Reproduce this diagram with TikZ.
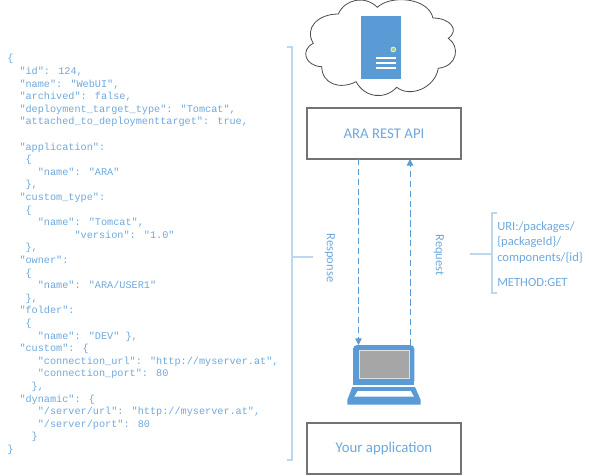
\documentclass[tikz,border=0pt]{standalone}
\usepackage{fontspec}
\setmainfont{Carlito}
\newfontfamily\jsonfont{Liberation Mono}
\usetikzlibrary{arrows.meta}
\definecolor{mainblue}{HTML}{5B9BD5}
\definecolor{textblue}{HTML}{6FA8DC}
\definecolor{paleblue}{HTML}{BDD7EE}
\definecolor{boxgray}{HTML}{737373}
\definecolor{dotgreen}{HTML}{A9D18E}
\newcommand{\ind}[1]{\hspace*{#1\dimexpr 0.6\fontdimen6\font\relax}}
\tikzset{
  diagram/.style={x=0.75pt,y=-0.75pt},
  apibox/.style={draw=boxgray,line width=0.85pt,fill=white,minimum width=115.5pt,minimum height=38.2pt,inner sep=0pt,outer sep=0pt,text=textblue,font=\fontsize{11.1}{13}\selectfont},
  bracketline/.style={draw=paleblue,line width=1.3pt},
  linkline/.style={draw=paleblue,line width=0.9pt},
  flow/.style={draw=mainblue,line width=0.75pt,dash pattern=on 4.8pt off 2.6pt,-{Triangle[length=5pt,width=4.8pt]}},
  vlabel/.style={rotate=-90,text=textblue,font=\fontsize{9.4}{11}\selectfont,inner sep=0pt},
  sidelabel/.style={anchor=base west,text=textblue,font=\fontsize{9.4}{12}\selectfont,inner sep=0pt},
  jsontext/.style={anchor=north west,align=left,inner sep=0pt,text=textblue,font=\fontsize{7.65}{9.45}\jsonfont\selectfont},
  cloudshape/.style={draw=black!70,line width=0.6pt,fill=white},
}
\begin{document}
\begin{tikzpicture}[diagram]
\useasboundingbox (0,0) rectangle (589,475);
% JSON
\node[jsontext] (json) at (7,54.3) {%
\{\\
\ind{2}"id": 124,\\
\ind{2}"name": "WebUI",\\
\ind{2}"archived": false,\\
\ind{2}"deployment\_target\_type": "Tomcat",\\
\ind{2}"attached\_to\_deploymenttarget": true,\\
\mbox{}\\
\ind{2}"application":\\
\ind{3}\{\\
\ind{5}"name": "ARA"\\
\ind{3}\},\\
\ind{2}"custom\_type":\\
\ind{3}\{\\
\ind{5}"name": "Tomcat",\\
\ind{11}"version": "1.0"\\
\ind{3}\},\\
\ind{2}"owner":\\
\ind{3}\{\\
\ind{5}"name": "ARA/USER1"\\
\ind{3}\},\\
\ind{2}"folder":\\
\ind{3}\{\\
\ind{5}"name": "DEV" \},\\
\ind{2}"custom": \{\\
\ind{5}"connection\_url": "http://myserver.at",\\
\ind{5}"connection\_port": 80\\
\ind{4}\},\\
\ind{2}"dynamic": \{\\
\ind{5}"/server/url": "http://myserver.at",\\
\ind{5}"/server/port": 80\\
\ind{4}\}\\
\}};
% left bracket
\draw[bracketline] (287,47) -- (292,47) -- (292,460) -- (287,460);
\coordinate (leftmid) at (292,257);
\coordinate (respend) at (313,257);
\draw[linkline] (leftmid) -- (respend);
% cloud
\draw[cloudshape] (338.3,14)
  .. controls (345,-1) and (365,-5) .. (377.3,7.3)
  .. controls (390,-5) and (428,-3) .. (433,18)
  .. controls (450,18) and (460,30) .. (448.3,38.3)
  .. controls (460,46) and (458,66) .. (438.3,68.3)
  .. controls (435,88) and (410,98) .. (396.7,87.3)
  .. controls (385,100) and (365,98) .. (356,81.7)
  .. controls (340,90) and (322,84) .. (321.7,66.7)
  .. controls (305,66) and (300,50) .. (313.3,43.3)
  .. controls (304,28) and (318,14) .. (338.3,14) -- cycle;
% server
\node[fill=mainblue,minimum width=29.9pt,minimum height=47.6pt,inner sep=0pt,outer sep=0pt] (server) at (381,47.4) {};
\fill[white!70!paleblue] (393.3,49.5) circle[radius=2.8];
\fill[dotgreen] (393.3,49.5) circle[radius=2];
\foreach \yy in {58,63,68} \draw[white,line width=0.9pt] (376,\yy) -- (396,\yy);
% boxes
\node[apibox] (api) at (384,133.5) {ARA REST API};
\node[apibox] (app) at (384,448.5) {Your application};
% laptop
\node[fill=mainblue,minimum width=46pt,minimum height=29.8pt,inner sep=0pt,outer sep=0pt,rounded corners=3pt] (screen) at (383.7,364.9) {};
\fill[mainblue] (353,375) rectangle (414.3,384.7);
\node[fill=black!35,draw=black!12,line width=0.6pt,minimum width=37.5pt,minimum height=20.5pt,inner sep=0pt,outer sep=0pt] (display) at (384,364.4) {};
\fill[mainblue] (352.3,387) -- (415,387) -- (420.7,400) -- (420.7,404.7) -- (347.3,404.7) -- (347.3,400) -- cycle;
\fill[white] (357.7,391) -- (410.7,391) -- (414,396.7) -- (354.3,396.7) -- cycle;
% flows
\coordinate (respx) at (358.5,0);
\coordinate (reqx) at (410,0);
\draw[flow] (api.south -| respx) -- (screen.north -| respx);
\draw[flow] (screen.north -| reqx) -- (api.south -| reqx);
\node[vlabel] (resp) at (330,258) {Response};
\node[vlabel] (req) at (439,255) {Request};
% right bracket
\draw[bracketline] (497,213) -- (492,213) -- (492,293) -- (497,293);
\coordinate (rightmid) at (492,254);
\coordinate (reqend) at (470,254);
\draw[linkline] (reqend) -- (rightmid);
\node[sidelabel] (uria) at (497,230) {URI:/packages/};
\node[sidelabel] (urib) at (497,245) {\{packageId\}/};
\node[sidelabel] (uric) at (497,261) {components/\{id\}};
\node[sidelabel] (method) at (497,286) {METHOD:GET};
\end{tikzpicture}
\end{document}
